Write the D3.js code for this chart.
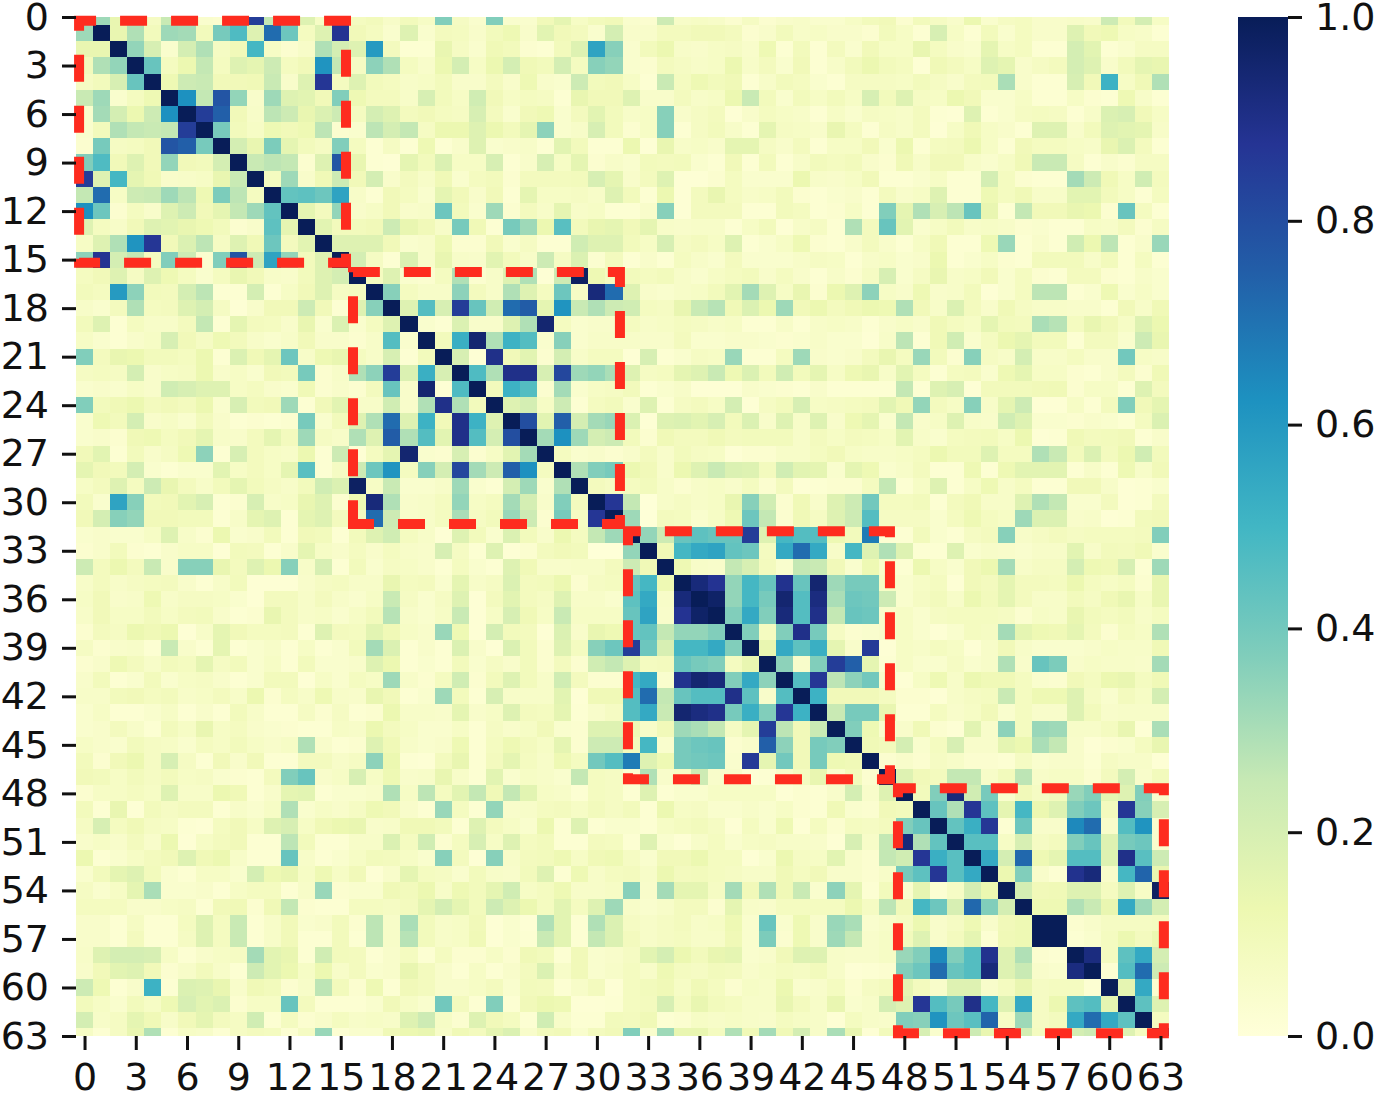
<!DOCTYPE html>
<html>
<head>
	<meta charset="utf-8">
	<title>Correlation heatmap</title>
	<style>
		body { margin: 0; background: #fff; }
		text { font-family: "DejaVu Sans", sans-serif; }
	</style>
</head>
<body>
	<svg id="canvas" width="1376" height="1096"></svg>
	<script src="https://cdn.jsdelivr.net/npm/d3@7"></script>
	<script>
		// Upper triangle of the correlation matrix, in hundredths. Row i starts at column i.
		const upperRows = [
			[100,33,17,12,9,26,5,5,4,38,85,27,63,20,8,36, 10,12,7,12,8,38,9,5,38,5,5,13,18,8,12,13,5, 4,25,7,8,7,4,9,4,6,7,5,5,8,12,13, 4,12,9,6,16,5,9,10,6,6,7,6,25,12,23,8],
			[100,17,30,12,33,32,12,40,48,20,72,42,10,20,88, 13,10,5,20,5,11,10,6,12,15,6,19,13,11,5,23,6, 6,11,11,13,13,11,4,6,12,7,8,6,6,4,12, 8,3,22,8,3,12,5,10,6,6,20,13,15,8,7,3],
			[100,35,22,5,23,30,9,13,50,8,4,7,30,23, 20,60,11,3,3,17,9,5,14,12,4,3,12,20,57,37,5, 12,16,7,6,8,9,6,15,3,12,3,11,5,13,8, 8,17,10,6,5,18,8,10,3,3,23,19,3,5,9,9],
			[100,43,10,16,27,10,20,18,25,10,13,62,27, 9,36,30,10,6,16,23,8,16,23,14,12,23,10,37,35,5, 4,11,9,7,8,16,7,11,5,13,3,7,12,16,12, 10,2,14,11,8,20,18,6,9,11,23,20,6,12,18,17],
			[100,15,25,26,13,13,14,26,6,20,87,10, 20,12,10,7,8,12,6,6,11,6,15,6,5,25,12,13,8, 3,26,10,15,12,14,3,7,12,10,5,3,9,9,9, 8,12,9,6,11,12,31,6,3,3,22,13,52,8,14,30],
			[100,63,27,78,35,6,33,20,19,13,38, 15,11,11,7,22,12,8,24,13,8,10,9,3,17,13,13,20, 6,6,11,7,8,16,26,12,5,12,8,12,8,22,12, 20,9,8,16,13,5,5,8,3,3,8,4,3,15,7,3],
			[100,85,75,13,7,28,25,17,21,25, 10,23,20,11,13,10,9,22,11,5,13,15,5,11,19,12,7, 8,37,6,9,11,2,6,10,8,7,3,8,5,9,8, 7,11,3,2,20,3,5,9,10,9,3,7,21,22,13,8],
			[100,40,12,8,15,13,15,28,4, 5,28,23,27,9,16,16,20,16,12,18,36,5,7,22,12,4, 8,37,3,9,12,7,3,18,9,8,6,17,10,3,9, 7,11,2,8,14,8,6,3,20,20,6,12,20,19,18,7],
			[100,23,17,39,18,12,9,38, 10,3,9,3,15,3,6,20,5,6,7,3,19,12,3,3,16, 2,17,7,8,6,18,18,9,6,11,3,8,8,13,5, 16,3,10,11,16,8,3,13,10,10,8,7,17,21,11,3],
			[100,26,28,27,4,20,78, 17,3,2,18,12,21,8,8,22,3,6,22,8,18,4,7,5, 12,11,12,5,3,13,3,12,3,7,12,10,12,6,4, 14,7,13,13,7,5,8,14,26,26,9,3,6,4,9,9],
			[100,10,33,6,14,25, 13,23,6,11,7,14,5,10,12,4,11,11,11,12,22,18,6, 11,20,2,2,4,10,5,5,5,16,7,6,8,13,3, 3,5,8,3,3,23,10,4,3,3,32,25,14,8,24,11],
			[100,44,45,42,57, 7,3,13,10,5,18,13,6,13,3,18,8,8,9,7,20,12, 3,16,2,11,17,10,7,8,12,4,3,5,6,3,11, 6,8,20,3,3,15,10,14,7,7,19,19,12,8,3,10],
			[100,18,11,35, 6,8,13,6,7,42,12,5,33,4,11,7,18,7,8,3,3, 6,37,2,11,11,11,3,3,12,10,3,4,8,3,38, 18,30,22,28,43,17,3,27,13,13,17,16,4,43,10,3],
			[100,19,12, 12,13,25,17,13,7,40,14,3,40,33,16,46,12,17,18,13, 18,7,6,7,7,3,8,12,2,7,9,3,30,11,43, 19,5,8,12,7,8,7,4,5,3,3,8,7,11,4,9],
			[100,20, 20,20,13,5,6,15,4,4,13,5,9,3,3,24,20,20,12, 8,22,9,11,8,20,3,5,8,15,4,3,6,11,6, 3,8,14,3,3,15,34,3,6,3,24,16,28,3,6,34],
			[100, 23,9,3,21,6,17,7,6,19,12,7,25,9,21,4,11,3, 6,3,10,7,5,11,5,5,5,7,9,8,3,7,8, 5,6,16,3,5,8,4,3,12,12,12,7,12,3,10,3],

			[100,10,20,5,4,10,30,4,7,20,30,2,25,98,15,10, 12,10,12,7,5,8,10,12,6,10,6,3,7,4,9,22, 5,9,17,7,8,13,5,10,4,3,11,11,4,3,7,5],
			[100,37,10,7,7,36,11,7,30,20,10,42,8,93,72, 20,6,5,7,8,12,19,32,20,8,17,4,16,20,36,8, 6,15,6,7,12,2,5,10,28,28,3,5,15,5,8,5],
			[100,20,47,22,85,43,24,72,76,18,62,26,30,25, 24,10,9,17,26,29,14,21,16,33,13,16,11,14,16,15, 30,13,7,21,11,6,14,9,7,7,6,6,3,13,7,14],
			[100,5,3,21,6,6,20,30,95,10,5,6,6, 10,7,8,10,9,7,8,3,3,7,3,7,8,7,3,6, 8,6,14,10,8,18,12,11,31,29,10,17,13,8,20,16],
			[100,12,53,95,30,52,47,5,37,5,7,7, 7,6,6,11,5,5,6,6,5,4,5,7,5,5,2,7, 28,3,14,24,5,10,16,18,12,12,3,11,11,5,25,17],
			[100,22,2,90,13,19,4,23,7,10,10, 2,22,3,5,9,8,34,3,3,10,33,6,5,6,11,17, 10,34,12,4,37,9,7,23,7,7,10,6,6,41,8,7],
			[100,48,30,90,90,22,82,33,35,31, 20,9,10,18,20,26,15,21,12,24,12,18,8,15,17,7, 19,10,3,10,11,5,15,18,8,8,4,3,6,11,4,14],
			[100,12,52,47,4,32,5,8,9, 12,3,5,7,2,2,2,6,5,4,3,6,3,3,3,3, 27,3,20,22,2,12,12,12,13,14,4,8,8,3,20,11],
			[100,20,23,8,25,3,10,12, 5,20,3,9,11,8,23,2,9,12,22,8,9,10,11,19, 14,35,11,8,37,7,18,25,2,2,8,3,11,38,13,18],
			[100,80,19,75,23,32,34, 21,2,20,21,19,22,12,21,6,20,7,20,6,15,18,5, 27,6,8,20,7,6,24,20,5,5,4,6,5,3,10,21],
			[100,32,63,33,23,25, 12,4,14,11,11,14,11,12,12,12,7,11,8,11,10,8, 19,7,5,10,11,12,8,16,2,3,14,11,12,13,3,6],
			[100,10,5,6,4, 6,11,6,12,9,8,2,4,4,7,7,10,13,8,7,7, 8,10,16,12,12,20,10,10,30,26,12,21,11,16,24,12],
			[100,30,38,40, 16,13,6,16,20,26,21,20,11,24,19,18,5,18,15,5, 7,11,3,3,15,3,15,19,19,19,3,7,3,15,7,13],
			[100,11,9, 10,12,7,4,7,8,6,10,4,11,2,3,4,4,10,27, 3,8,20,3,8,15,7,10,3,3,13,13,7,2,3,5],
			[100,87, 27,1,7,9,7,8,17,37,24,4,14,6,20,25,41,10, 10,12,3,11,14,7,7,20,30,27,5,5,11,2,3,11],
			[100, 33,1,11,10,5,8,15,42,27,4,14,9,20,25,47,9, 9,9,5,10,15,10,8,33,21,21,6,7,2,3,12,13],

			[100,35,25,43,45,43,43,85,20,50,47,47,15,12,68,3, 3,12,5,3,9,11,37,7,9,11,9,10,10,10,11,38],
			[100,14,50,55,57,44,42,10,55,72,55,7,50,20,30, 20,3,3,20,5,7,6,5,7,7,19,7,12,11,14,5],
			[100,15,7,6,27,22,11,5,27,26,13,5,15,6, 3,16,8,5,13,16,32,7,9,9,23,15,14,22,3,33],
			[100,93,88,35,50,43,89,43,95,33,40,40,8, 5,8,10,2,13,11,18,11,11,10,16,10,8,10,4,17],
			[100,97,35,50,40,95,47,92,31,42,41,25, 5,9,12,7,16,12,18,11,7,7,12,9,14,17,8,17],
			[100,38,55,38,93,47,90,27,43,42,6, 8,5,9,10,10,10,9,4,8,7,17,12,10,12,7,10],
			[100,38,10,38,90,40,9,4,5,6, 8,5,2,5,10,9,32,18,15,14,18,11,4,10,8,30],
			[100,17,55,45,53,18,6,86,2, 8,7,10,8,2,7,13,7,5,5,5,6,8,7,7,14],
			[100,36,6,38,85,75,18,3, 8,5,5,9,5,7,30,6,43,39,6,8,7,7,6,32],
			[100,47,87,28,36,41,6, 2,8,15,7,16,14,14,10,5,4,13,10,16,17,10,14],
			[100,52,13,13,13,10, 4,4,2,7,9,10,26,10,15,15,20,9,5,11,8,23],
			[100,26,40,40,17, 3,3,10,6,8,13,5,10,6,6,20,12,6,7,7,7],
			[100,38,15,5, 6,14,4,2,19,6,36,10,34,33,7,7,10,17,2,31],
			[100,14,12, 23,5,10,22,6,6,18,16,31,27,6,2,4,5,10,17],
			[100,4, 6,4,9,7,4,4,3,9,5,6,6,3,9,7,7,2],
			[100, 20,13,11,27,27,7,12,28,7,8,8,4,11,23,6,12],

			[100,12,38,93,24,40,5,13,9,12,34,38,18,20,38,5],
			[100,43,30,87,45,18,50,16,20,38,42,11,87,37,22],
			[100,44,53,87,3,42,6,6,65,72,6,47,62,5],
			[100,46,46,8,22,9,11,38,43,20,40,42,5],
			[100,55,23,73,15,18,47,47,20,90,46,25],
			[100,16,38,6,3,89,93,6,50,74,17],
			[100,23,13,14,20,20,10,20,8,98],
			[100,15,15,30,26,17,55,33,23],
			[100,100,4,6,9,9,9,10],
			[100,3,5,10,16,11,16],
			[100,92,10,45,55,23],
			[100,3,47,72,25],
			[100,18,55,4],
			[100,45,20],
			[100,10],
			[100]
		];

		const tickValues = d3.range(0, 64, 3);
		const colorbarTicks = [0, 0.2, 0.4, 0.6, 0.8, 1];

		// Dashed block outlines: [first column, last column, first row, last row]
		const blocks = [
			[0.18, 15.81, 0.23, 15.2],
			[16.22, 31.85, 15.77, 31.35],
			[32.32, 47.66, 31.79, 47.12],
			[48.13, 63.7, 47.68, 62.83]
		];

		const svg = d3.select("#canvas");
		const inkColor = "#111";

		// Scales. Rows are centred on their ticks, so the first and last row get cut in half
		const x = d3.scaleLinear().domain([0, 64]).range([76, 1169]);
		const y = d3.scaleLinear().domain([0, 63]).range([17, 1036]);
		const color = d3.scaleLinear()
			.domain(d3.range(9).map(function(i){ return i / 8; }))
			.range(d3.schemeYlGnBu[9]);
		const barScale = d3.scaleLinear().domain([0, 1]).range([1036, 17]);

		// my eye read the pale cells a bit high against the colorbar, pull those down
		const reading = d3.scaleLinear().domain([0, 15, 30, 100]).range([0, 0.115, 0.29, 1]);

		// Mirror the triangle into cells
		let cells = [];
		upperRows.forEach(function(row, i){
			row.forEach(function(v, k){
				let j = i + k;
				cells.push({ row: i, col: j, value: reading(v) });
				if (i !== j) cells.push({ row: j, col: i, value: reading(v) });
			});
		});

		svg.append("clipPath").attr("id", "plot-clip")
			.append("rect")
			.attr("x", x(0))
			.attr("y", y(0))
			.attr("width", x(64) - x(0))
			.attr("height", y(63) - y(0));

		svg.append("g")
			.attr("clip-path", "url(#plot-clip)")
			.attr("shape-rendering", "crispEdges")
			.selectAll("rect")
			.data(cells)
			.enter()
			.append("rect")
				.attr("x", function(d){ return x(d.col); })
				.attr("y", function(d){ return y(d.row - 0.5); })
				.attr("width", x(1) - x(0) + 0.5)
				.attr("height", y(1) - y(0) + 0.5)
				.attr("fill", function(d){ return color(d.value); });

		// Red dashed outlines, path starts bottom left and runs right, up, left, down
		svg.append("g")
			.selectAll("path")
			.data(blocks)
			.enter()
			.append("path")
				.attr("d", function(b){
					return "M" + x(b[0]) + "," + y(b[3]) +
						"L" + x(b[1]) + "," + y(b[3]) +
						"L" + x(b[1]) + "," + y(b[2]) +
						"L" + x(b[0]) + "," + y(b[2]) + "Z";
				})
				.attr("fill", "none")
				.attr("stroke", "#fe2c1f")
				.attr("stroke-width", 10)
				.attr("stroke-dasharray", "27 24")
				.attr("stroke-dashoffset", 6);

		// Axes
		function styleAxis(g) {
			g.select(".domain").remove();
			g.selectAll("line").attr("stroke", inkColor).attr("stroke-width", 3);
			g.selectAll("text").attr("fill", inkColor).attr("font-size", 38)
				.attr("font-family", "'DejaVu Sans', sans-serif");
		}

		svg.append("g")
			.attr("transform", "translate(0," + y(63) + ")")
			.call(d3.axisBottom(x)
				.tickValues(tickValues.map(function(v){ return v + 0.5; }))
				.tickFormat(function(v){ return v - 0.5; })
				.tickSize(14).tickPadding(13))
			.call(styleAxis);

		svg.append("g")
			.attr("transform", "translate(" + x(0) + ",0)")
			.call(d3.axisLeft(y)
				.tickValues(tickValues)
				.tickFormat(d3.format("d"))
				.tickSize(14).tickPadding(13))
			.call(styleAxis);

		// Colorbar
		const grad = svg.append("linearGradient")
			.attr("id", "bar-grad")
			.attr("x1", 0).attr("x2", 0).attr("y1", 1).attr("y2", 0);
		color.domain().forEach(function(v){
			grad.append("stop").attr("offset", v).attr("stop-color", color(v));
		});

		svg.append("rect")
			.attr("x", 1238)
			.attr("y", barScale(1))
			.attr("width", 50)
			.attr("height", barScale(0) - barScale(1))
			.attr("fill", "url(#bar-grad)");

		svg.append("g")
			.attr("transform", "translate(1288,0)")
			.call(d3.axisRight(barScale)
				.tickValues(colorbarTicks)
				.tickFormat(d3.format(".1f"))
				.tickSize(14).tickPadding(13))
			.call(styleAxis);
	</script>
</body>
</html>
